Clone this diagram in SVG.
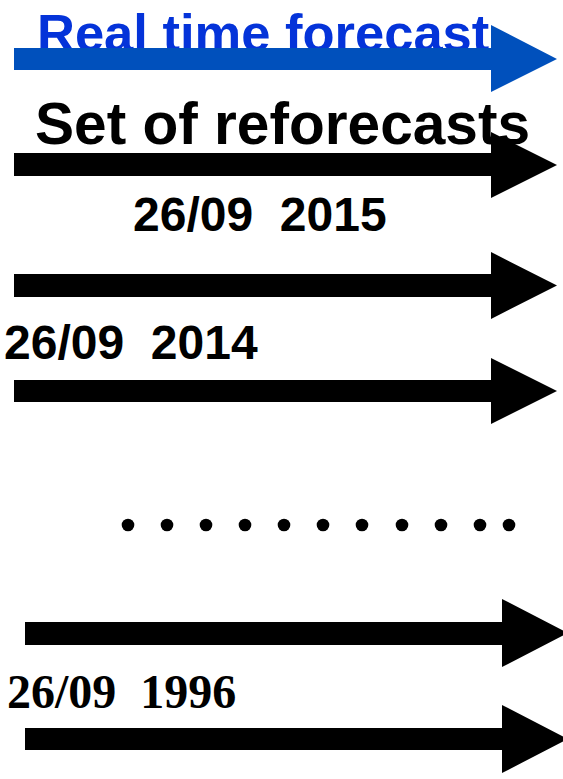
<svg xmlns="http://www.w3.org/2000/svg" width="563" height="779" viewBox="0 0 563 779">
<style>
.sans{font-family:"Liberation Sans",Arial,sans-serif;font-weight:bold}
.serif{font-family:"Liberation Serif","Times New Roman",serif;font-weight:bold}
.blk{fill:#000}
.blu{fill:#0050BC}
.dot{fill:#000}
</style>
<rect width="563" height="779" fill="#fff"/>
<g id="real-time">
<text class="sans" x="37" y="51" font-size="52.5" fill="#0433D9">Real time forecast</text>
</g>
<g id="set-title">
<text class="sans" x="35" y="144" font-size="58.6" fill="#000">Set of reforecasts</text>
</g>
<g id="label-2015">
<text class="sans" x="133" y="231" font-size="48" fill="#000" xml:space="preserve">26/09  2015</text>
</g>
<g id="label-2014">
<text class="sans" x="4" y="359" font-size="48" fill="#000" xml:space="preserve">26/09  2014</text>
</g>
<g id="label-1996">
<text class="serif" x="7" y="708" font-size="48" fill="#000" xml:space="preserve">26/09  1996</text>
</g>
<g id="ellipsis">
<circle class="dot" cx="128" cy="525" r="6.3"/>
<circle class="dot" cx="167" cy="525" r="6.3"/>
<circle class="dot" cx="206" cy="525" r="6.3"/>
<circle class="dot" cx="245" cy="525" r="6.3"/>
<circle class="dot" cx="284" cy="525" r="6.3"/>
<circle class="dot" cx="323" cy="525" r="6.3"/>
<circle class="dot" cx="362" cy="525" r="6.3"/>
<circle class="dot" cx="402" cy="525" r="6.3"/>
<circle class="dot" cx="441" cy="525" r="6.3"/>
<circle class="dot" cx="480" cy="525" r="6.3"/>
<circle class="dot" cx="509" cy="525" r="6.3"/>
</g>
<g id="connectors">
<path class="blu" d="M14,48 H491 V25 L557,59 L491,92 V70 H14 Z"/>
<path class="blk" d="M14,153 H491 V132 L557,165 L491,198 V176 H14 Z"/>
<path class="blk" d="M14,274 H491 V252 L557,285.5 L491,319 V297 H14 Z"/>
<path class="blk" d="M14,380 H491 V358 L557,391 L491,424 V402 H14 Z"/>
<path class="blk" d="M25,622 H502 V599 L568,633 L502,667 V645 H25 Z"/>
<path class="blk" d="M25,728 H502 V705 L568,739 L502,773 V750 H25 Z"/>
</g>
</svg>
